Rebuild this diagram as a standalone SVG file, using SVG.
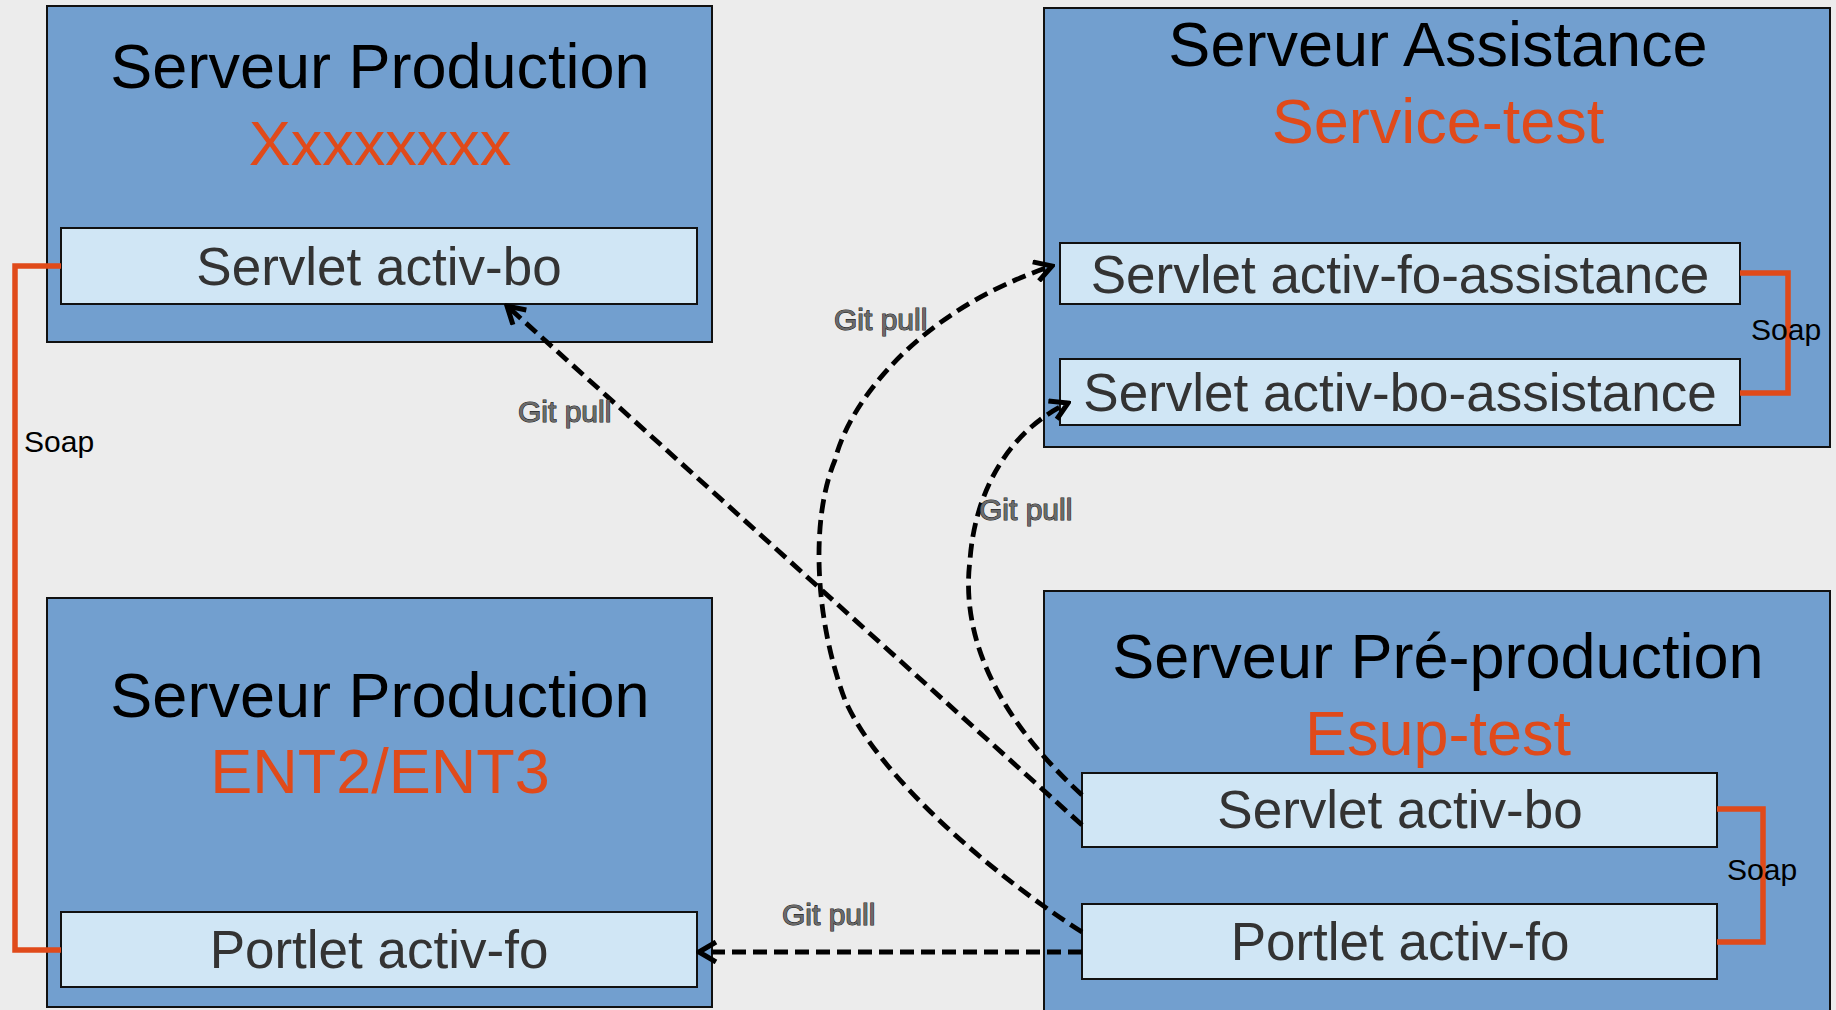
<svg xmlns="http://www.w3.org/2000/svg" width="1836" height="1010" viewBox="0 0 1836 1010">
<defs>
<style>
.server{fill:#729FCF;stroke:#111;stroke-width:2}
.comp{fill:#D0E6F5;stroke:#111;stroke-width:2}
.title{font-family:"Liberation Sans",Arial,sans-serif;font-size:63px;fill:#000;text-anchor:middle}
.sub{font-family:"Liberation Sans",Arial,sans-serif;font-size:63px;fill:#E04A1A;text-anchor:middle}
.ctext{font-family:"Liberation Sans",Arial,sans-serif;font-size:53px;fill:#333;text-anchor:middle}
.soap{fill:none;stroke:#E04A1A;stroke-width:5.5}
.soaplbl{font-family:"Liberation Sans",Arial,sans-serif;font-size:30px;fill:#000}
.git{fill:none;stroke:#000;stroke-width:4.8;stroke-dasharray:14 7;marker-end:url(#arr)}
.gitlbl{font-family:"Liberation Sans",Arial,sans-serif;font-size:30px;fill:#6a6a6a;stroke:#222;stroke-width:1.1;paint-order:stroke}
</style>
<marker id="arr" markerUnits="userSpaceOnUse" viewBox="0 0 24 24" refX="21" refY="12" markerWidth="24" markerHeight="24" orient="auto">
<path d="M4,2 L21,12 L4,22" fill="none" stroke="#000" stroke-width="5"/>
</marker>
</defs>
<rect x="0" y="0" width="1836" height="1010" fill="#ECECEC"/>

<g id="srv-prod-x">
<rect class="server" x="47" y="6" width="665" height="336"/>
<text class="title" x="380" y="88">Serveur Production</text>
<text class="sub" x="380" y="165">Xxxxxxxx</text>
<g id="prod-x-servlet-bo">
<rect class="comp" x="61" y="228" width="636" height="76"/>
<text class="ctext" x="379" y="285">Servlet activ-bo</text>
</g>
</g>

<g id="srv-prod-ent">
<rect class="server" x="47" y="598" width="665" height="409"/>
<text class="title" x="380" y="717">Serveur Production</text>
<text class="sub" x="380" y="793">ENT2/ENT3</text>
<g id="prod-ent-portlet-fo">
<rect class="comp" x="61" y="912" width="636" height="75"/>
<text class="ctext" x="379" y="968">Portlet activ-fo</text>
</g>
</g>

<g id="srv-assistance">
<rect class="server" x="1044" y="8" width="786" height="439"/>
<text class="title" x="1438" y="66">Serveur Assistance</text>
<text class="sub" x="1438" y="143">Service-test</text>
<g id="assist-fo">
<rect class="comp" x="1060" y="243" width="680" height="61"/>
<text class="ctext" x="1400" y="293">Servlet activ-fo-assistance</text>
</g>
<g id="assist-bo">
<rect class="comp" x="1060" y="359" width="680" height="66"/>
<text class="ctext" x="1400" y="411">Servlet activ-bo-assistance</text>
</g>
</g>

<g id="srv-preprod">
<rect class="server" x="1044" y="591" width="786" height="440"/>
<text class="title" x="1438" y="678">Serveur Pré-production</text>
<text class="sub" x="1438" y="755">Esup-test</text>
<g id="preprod-servlet-bo">
<rect class="comp" x="1082" y="773" width="635" height="74"/>
<text class="ctext" x="1400" y="828">Servlet activ-bo</text>
</g>
<g id="preprod-portlet-fo">
<rect class="comp" x="1082" y="904" width="635" height="75"/>
<text class="ctext" x="1400" y="960">Portlet activ-fo</text>
</g>
</g>

<g id="soap-links">
<path class="soap" d="M61,266 H15 V950 H61"/>
<text class="soaplbl" x="24" y="452">Soap</text>
<path class="soap" d="M1740,273 H1788 V393 H1740"/>
<text class="soaplbl" x="1751" y="340">Soap</text>
<path class="soap" d="M1717,809 H1763 V942 H1717"/>
<text class="soaplbl" x="1727" y="880">Soap</text>
</g>

<g id="connectors">
<path class="git" d="M1082,825 L507,306"/>
<path class="git" d="M1082,932 C1000,880 880,780 845,700 C815,620 810,520 835,460 C850,400 920,310 1052,266"/>
<path class="git" d="M1082,795 C1000,720 960,640 970,560 C975,490 1010,430 1068,403"/>
<path class="git" d="M1082,952 L699,952"/>
<text class="gitlbl" x="518" y="422">Git pull</text>
<text class="gitlbl" x="834" y="330">Git pull</text>
<text class="gitlbl" x="979" y="520">Git pull</text>
<text class="gitlbl" x="782" y="925">Git pull</text>
</g>
</svg>
